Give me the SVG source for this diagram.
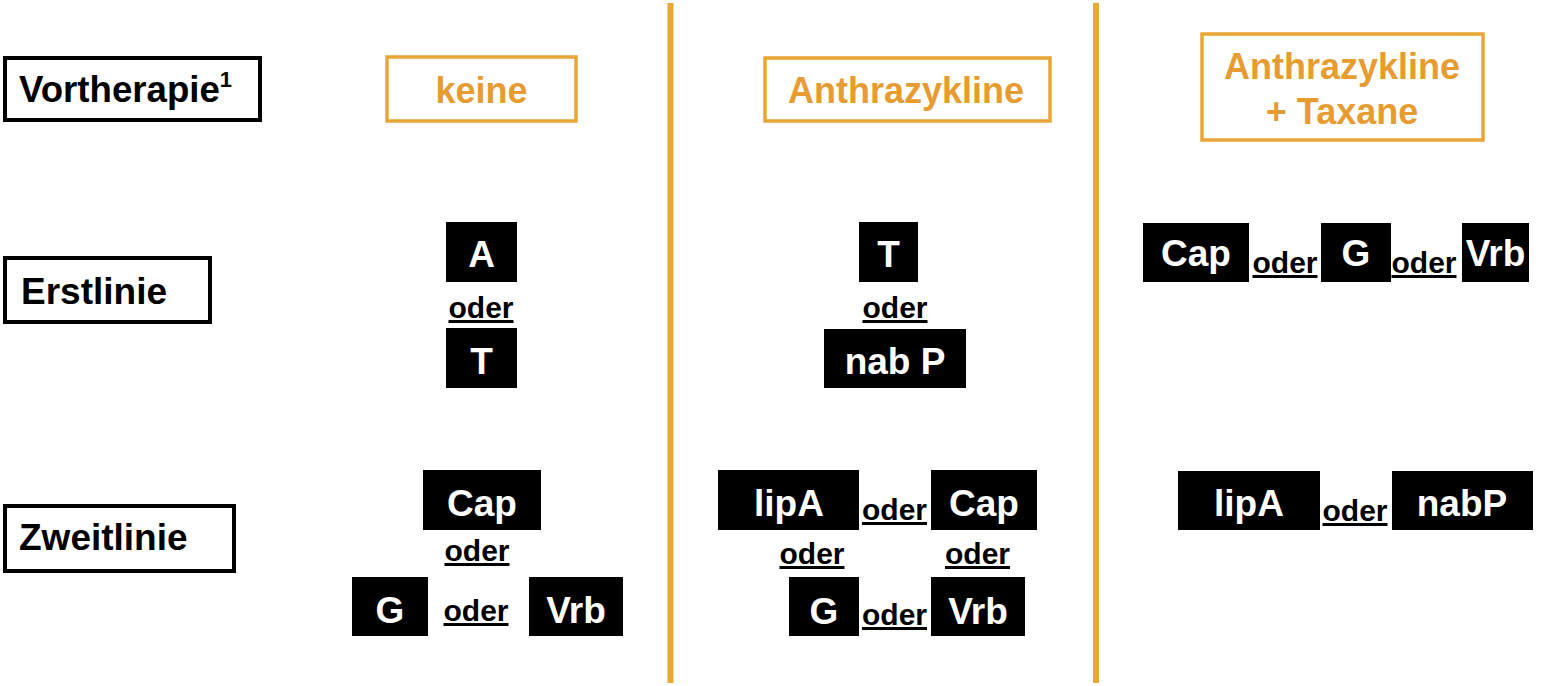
<svg xmlns="http://www.w3.org/2000/svg" width="1559" height="686" viewBox="0 0 1559 686">
<style>
.lbl{fill:#fff;stroke:#000;stroke-width:4}
.lt{font-family:"Liberation Sans",Arial,sans-serif;font-weight:bold;font-size:37px;fill:#000}
.hdr{fill:#fff;stroke:#E9A535;stroke-width:3.5}
.ht{font-family:"Liberation Sans",Arial,sans-serif;font-weight:bold;font-size:36px;fill:#E69C30;text-anchor:middle}
.bx{fill:#000}
.bt{font-family:"Liberation Sans",Arial,sans-serif;font-weight:bold;font-size:37px;fill:#fff;text-anchor:middle}
.od{font-family:"Liberation Sans",Arial,sans-serif;font-weight:bold;font-size:30px;fill:#000;text-anchor:middle;text-decoration:underline}
.sep{stroke:#E9A733;stroke-width:6;fill:none}
</style>
<rect width="1559" height="686" fill="#fff"/>
<g id="separators">
<line class="sep" x1="670.5" y1="3" x2="670.5" y2="683"/>
<line class="sep" x1="1096" y1="3" x2="1096" y2="683"/>
</g>
<g id="row-vortherapie"><rect class="lbl" x="5" y="58" width="255" height="62"/><text class="lt" x="19" y="102" textLength="213" lengthAdjust="spacingAndGlyphs">Vortherapie<tspan font-size="22" dy="-15">1</tspan></text></g>
<g id="row-erstlinie"><rect class="lbl" x="5" y="258" width="205" height="64"/><text class="lt" x="21" y="304">Erstlinie</text></g>
<g id="row-zweitlinie"><rect class="lbl" x="5" y="506" width="229" height="65"/><text class="lt" x="19" y="550">Zweitlinie</text></g>
<g id="col-keine"><rect class="hdr" x="387" y="57" width="189" height="64"/><text class="ht" x="481.5" y="103">keine</text></g>
<g id="col-anthrazykline"><rect class="hdr" x="765" y="58" width="285" height="63"/><text class="ht" x="906" y="103">Anthrazykline</text></g>
<g id="col-anthra-taxane"><rect class="hdr" x="1202" y="34" width="281" height="106"/><text class="ht" x="1342" y="79">Anthrazykline</text><text class="ht" x="1342" y="124">+ Taxane</text></g>
<g id="c1-A"><rect class="bx" x="446" y="222" width="71" height="60"/><text class="bt" x="481.5" y="267">A</text></g>
<g id="c1-oder1"><text class="od" x="481" y="318">oder</text></g>
<g id="c1-T"><rect class="bx" x="446" y="328" width="71" height="60"/><text class="bt" x="481.5" y="374">T</text></g>
<g id="c1-Cap"><rect class="bx" x="423" y="470" width="118" height="60"/><text class="bt" x="482" y="516">Cap</text></g>
<g id="c1-oder2"><text class="od" x="477" y="561">oder</text></g>
<g id="c1-G"><rect class="bx" x="352" y="577" width="76" height="59"/><text class="bt" x="390" y="623">G</text></g>
<g id="c1-oder3"><text class="od" x="476" y="621">oder</text></g>
<g id="c1-Vrb"><rect class="bx" x="529" y="577" width="94" height="59"/><text class="bt" x="576" y="623">Vrb</text></g>
<g id="c2-T"><rect class="bx" x="859" y="222" width="59" height="60"/><text class="bt" x="888.5" y="267">T</text></g>
<g id="c2-oder1"><text class="od" x="895" y="318">oder</text></g>
<g id="c2-nabP"><rect class="bx" x="824" y="329" width="142" height="59"/><text class="bt" x="895" y="374">nab P</text></g>
<g id="c2-lipA"><rect class="bx" x="718" y="470" width="141" height="60"/><text class="bt" x="789" y="516">lipA</text></g>
<g id="c2-oder2"><text class="od" x="894.5" y="520">oder</text></g>
<g id="c2-Cap"><rect class="bx" x="931" y="470" width="106" height="60"/><text class="bt" x="984" y="516">Cap</text></g>
<g id="c2-oder3"><text class="od" x="812" y="564">oder</text></g>
<g id="c2-oder4"><text class="od" x="977.5" y="564">oder</text></g>
<g id="c2-G"><rect class="bx" x="789" y="577" width="70" height="59"/><text class="bt" x="824" y="624">G</text></g>
<g id="c2-oder5"><text class="od" x="894.5" y="625">oder</text></g>
<g id="c2-Vrb"><rect class="bx" x="931" y="577" width="94" height="59"/><text class="bt" x="978" y="624">Vrb</text></g>
<g id="c3-Cap"><rect class="bx" x="1143" y="223" width="106" height="59"/><text class="bt" x="1196" y="266">Cap</text></g>
<g id="c3-oder1"><text class="od" x="1285" y="273">oder</text></g>
<g id="c3-G"><rect class="bx" x="1321" y="223" width="70" height="59"/><text class="bt" x="1356" y="266">G</text></g>
<g id="c3-oder2"><text class="od" x="1424" y="273">oder</text></g>
<g id="c3-Vrb"><rect class="bx" x="1462" y="223" width="67" height="59"/><text class="bt" x="1495.5" y="266">Vrb</text></g>
<g id="c3-lipA"><rect class="bx" x="1178" y="471" width="142" height="59"/><text class="bt" x="1249" y="516">lipA</text></g>
<g id="c3-oder3"><text class="od" x="1355" y="521">oder</text></g>
<g id="c3-nabP"><rect class="bx" x="1392" y="471" width="141" height="59"/><text class="bt" x="1462" y="516">nabP</text></g>
</svg>
